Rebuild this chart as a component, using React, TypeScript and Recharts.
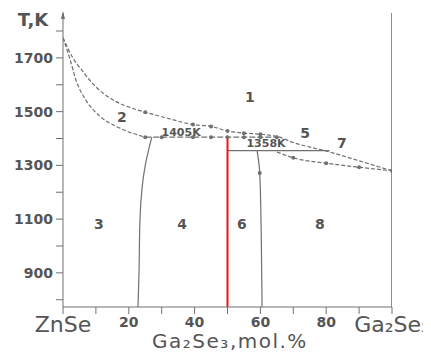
import React from "react";
import { ComposedChart, Line, XAxis, YAxis, ReferenceDot } from "recharts";

// ---- data (composition x in mol.% Ga2Se3, temperature T in K) ----
const upperLiqX = [0, 3, 6, 10, 15, 20, 25, 31, 39.5, 45, 50, 55, 60, 65, 70, 81, 90, 100];
const upperLiqT = [1775, 1700, 1650, 1592, 1545, 1517, 1498, 1478, 1452, 1445, 1428, 1420, 1416, 1408, 1385, 1350, 1317, 1280];

const innerLiqX = [0, 2, 4, 7, 11, 17, 21, 25];
const innerLiqT = [1775, 1700, 1615, 1542, 1485, 1440, 1420, 1405];

const eut1405X = [25, 65];
const eut1405T = [1405, 1405];

const per1358X = [50, 81];
const per1358T = [1355, 1355];

const solidusRX = [65, 70, 80, 90, 100];
const solidusRT = [1350, 1328, 1308, 1293, 1280];

const b34X = [27, 25, 23.4, 23.1, 22.8];
const b34T = [1405, 1300, 1100, 900, 773];

const b68X = [59, 59.8, 60.3, 60.5];
const b68T = [1355, 1272, 1000, 773];

const redX = [50, 50];
const redT = [1405, 773];

const rightX = [100, 100];
const rightT = [773, 1867];

const ptsX = [25, 39.5, 45, 50, 55, 60, 25, 30, 39.5, 45, 50, 55, 60, 65, 70, 80, 90, 59.8, 100];
const ptsT = [1498, 1452, 1445, 1428, 1420, 1416, 1405, 1405, 1405, 1405, 1405, 1405, 1405, 1405, 1328, 1308, 1293, 1272, 1280];

const xTicks = [0, 10, 20, 30, 40, 50, 60, 70, 80, 90, 100];
const xTickLabels: Record<number, string> = { 0: "ZnSe", 20: "20", 40: "40", 60: "60", 80: "80", 100: "Ga\u2082Se\u2083" };
const yTicks = [800, 900, 1000, 1100, 1200, 1300, 1400, 1500, 1600, 1700, 1800];
const yTickLabels = [900, 1100, 1300, 1500, 1700];

const regionNames = ["1", "2", "3", "4", "6", "8", "5", "7", "1405K", "1358K"];
const regionX = [56.8, 17.9, 10.9, 36.2, 54.4, 78.1, 73.6, 84.8, 35.9, 61.7];
const regionT = [1555, 1480, 1082, 1082, 1082, 1082, 1421, 1384, 1425, 1384];

const zip = (xs: number[], ts: number[]) => xs.map((x, i) => ({ x, t: ts[i] }));

const GREY = "#707070";
const TEXT = "#555";

const XTick = (props: any) => {
  const { x, y, payload } = props;
  const lab = xTickLabels[payload.value];
  if (!lab) return null;
  const big = payload.value === 0 || payload.value === 100;
  return (
    <text
      x={x}
      y={y}
      dy={big ? 16 : 11}
      textAnchor="middle"
      fill={TEXT}
      fontFamily="DejaVu Sans"
      fontWeight={big ? "normal" : "bold"}
      fontSize={big ? 22 : 14}
    >
      {lab}
    </text>
  );
};

export default function App() {
  const lineProps = { dataKey: "t", dot: false, isAnimationActive: false, stroke: GREY, strokeWidth: 1.2 } as any;
  return (
    <ComposedChart width={423} height={345} margin={{ top: 5, right: 39, bottom: 6, left: 5 }}>
      <XAxis
        type="number"
        dataKey="x"
        domain={[0, 100]}
        ticks={xTicks}
        allowDataOverflow
        height={40}
        tickSize={7}
        stroke={GREY}
        tick={<XTick />}
        label={(p: any) => (
          <text
            x={p.viewBox.x + p.viewBox.width / 2 + 2.5}
            y={p.viewBox.y + 41}
            textAnchor="middle"
            fill={TEXT}
            fontFamily="DejaVu Sans"
            fontSize={20}
            letterSpacing={1.5}
          >
            {"Ga\u2082Se\u2083,mol.%"}
          </text>
        )}
      />
      <YAxis
        type="number"
        domain={[773, 1867]}
        ticks={yTicks}
        allowDataOverflow
        width={50}
        tickSize={7}
        tickMargin={3}
        stroke={GREY}
        tickFormatter={(v: number) => (yTickLabels.includes(v) ? String(v) : "")}
        tick={{ fill: TEXT, fontFamily: "DejaVu Sans", fontWeight: "bold", fontSize: 14 }}
        label={(p: any) => {
          const ax = p.viewBox.x + p.viewBox.width;
          const top = p.viewBox.y;
          return (
            <g>
              <text x={ax - 30} y={top + 13} textAnchor="middle" fill={TEXT} fontFamily="DejaVu Sans" fontWeight="bold" fontSize={18}>
                T,K
              </text>
              <polygon points={`${ax},${top - 2} ${ax - 2},${top + 6} ${ax + 2},${top + 6}`} fill={GREY} />
            </g>
          );
        }}
      />
      <Line {...lineProps} data={zip(upperLiqX, upperLiqT)} type="monotone" strokeDasharray="4 2" />
      <Line {...lineProps} data={zip(innerLiqX, innerLiqT)} type="monotone" strokeDasharray="4 2" />
      <Line {...lineProps} data={zip(eut1405X, eut1405T)} type="linear" strokeDasharray="6 2" />
      <Line {...lineProps} data={zip(per1358X, per1358T)} type="linear" />
      <Line {...lineProps} data={zip(solidusRX, solidusRT)} type="monotone" strokeDasharray="4 2" />
      <Line {...lineProps} data={zip(b34X, b34T)} type="monotoneY" />
      <Line {...lineProps} data={zip(b68X, b68T)} type="monotoneY" />
      <Line {...lineProps} data={zip(rightX, rightT)} type="linear" strokeWidth={1.6} />
      <Line {...lineProps} data={zip(redX, redT)} type="linear" stroke="#e8141c" strokeWidth={2} />
      <Line
        dataKey="t"
        data={zip(ptsX, ptsT)}
        type="linear"
        stroke="none"
        isAnimationActive={false}
        dot={{ r: 2, fill: GREY, stroke: "none" }}
      />
      {regionNames.map((name, i) => (
        <ReferenceDot
          key={name}
          x={regionX[i]}
          y={regionT[i]}
          r={0}
          fill="none"
          stroke="none"
          label={{
            value: name,
            position: "center",
            fill: TEXT,
            fontFamily: "DejaVu Sans",
            fontWeight: "bold",
            fontSize: name.length > 1 ? 11 : 14,
          }}
        />
      ))}
    </ComposedChart>
  );
}
